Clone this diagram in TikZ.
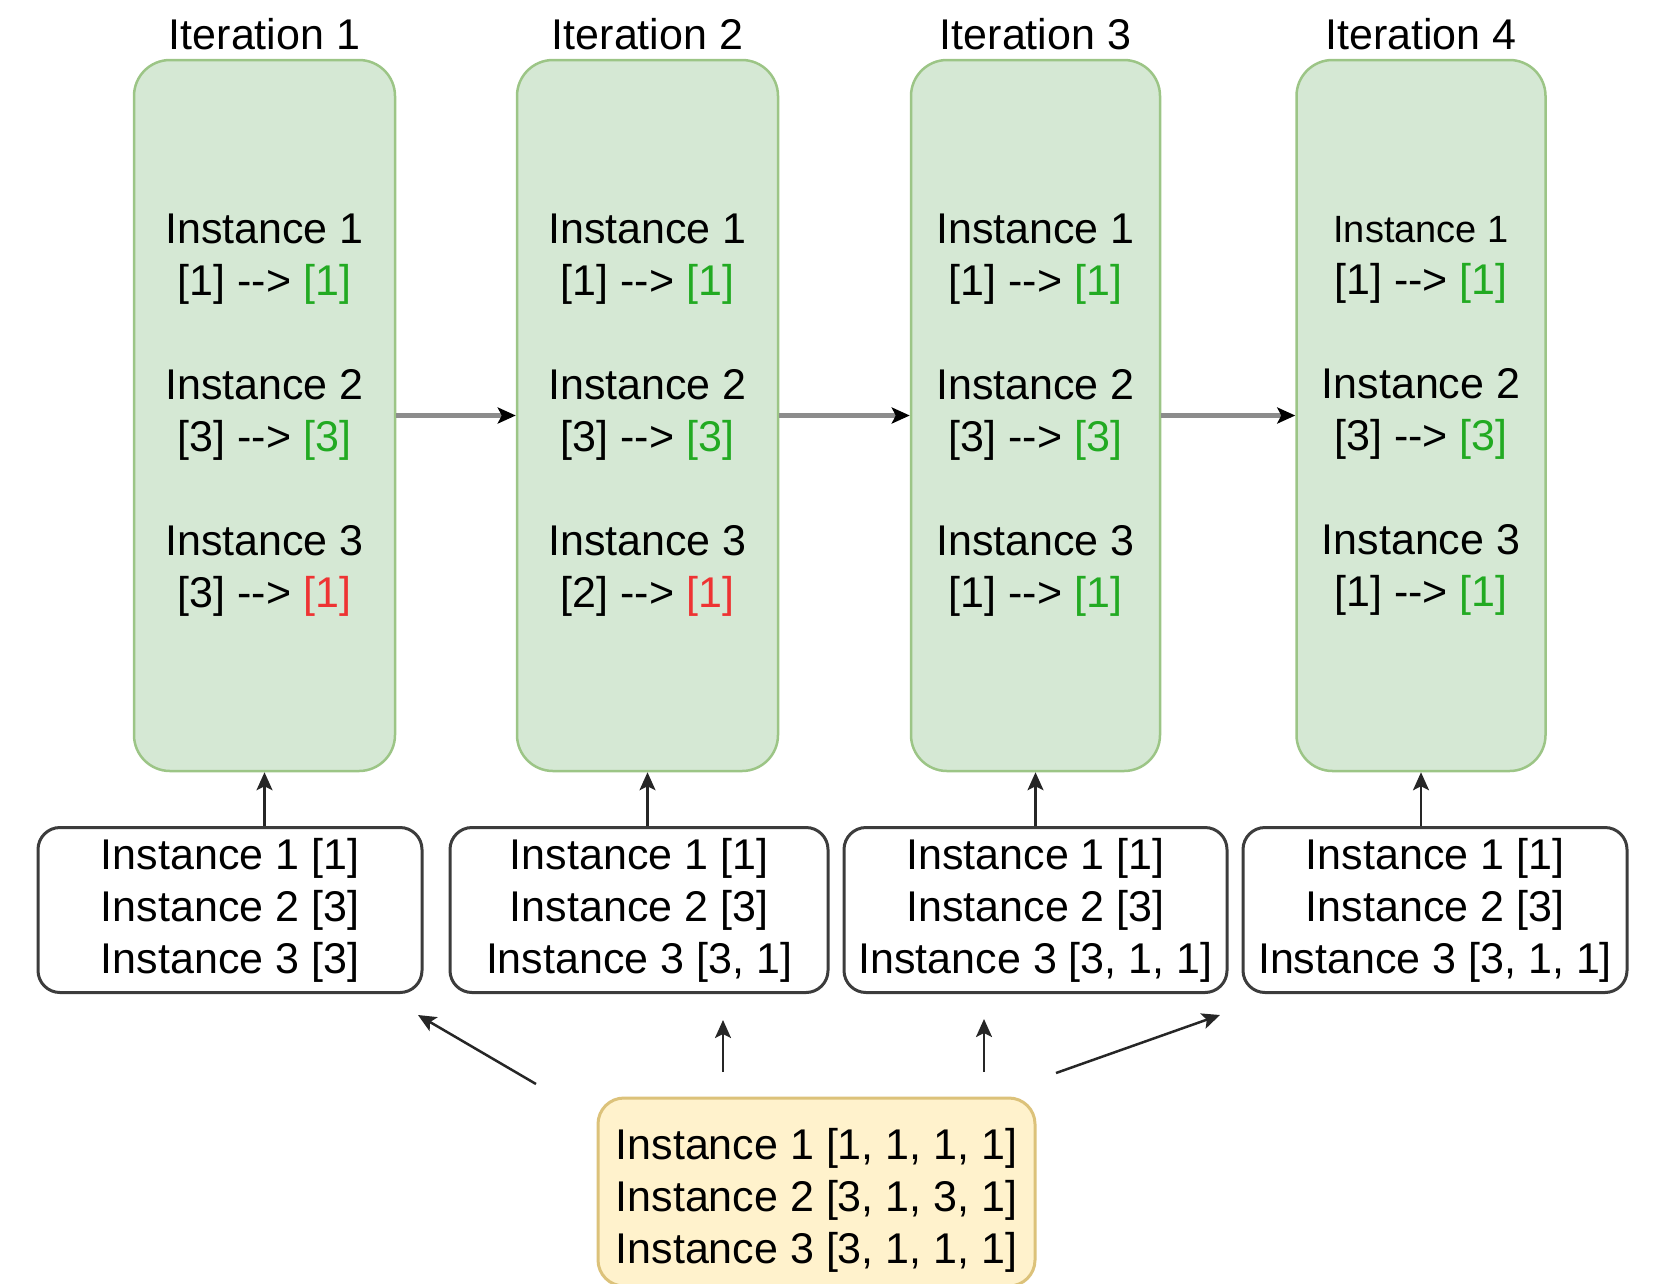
\documentclass[tikz,border=0pt]{standalone}
\usepackage{fontspec}
\setmainfont{Liberation Sans}
\usetikzlibrary{positioning,arrows.meta}
\definecolor{iterfill}{HTML}{D5E8D4}
\definecolor{iterline}{HTML}{9CC586}
\definecolor{batchline}{HTML}{3C3C3C}
\definecolor{poolfill}{HTML}{FFF2CC}
\definecolor{poolline}{HTML}{DCC27A}
\definecolor{okgreen}{HTML}{22AA22}
\definecolor{badred}{HTML}{EE3333}
\definecolor{flowgray}{HTML}{8C8C8C}
\newcommand{\pointsto}{-{}->}
\newcommand{\hit}[1]{\textcolor{okgreen}{#1}}
\newcommand{\miss}[1]{\textcolor{badred}{#1}}
\tikzset{
    iter/.style={draw=iterline, fill=iterfill, line width=2.5pt, rounded corners=36pt,
        minimum width=#1, minimum height=711pt, inner sep=0pt, align=center},
    batch/.style={draw=batchline, fill=white, line width=3pt, rounded corners=22pt,
        minimum width=#1, minimum height=165pt, inner sep=0pt, align=center},
    pool/.style={draw=poolline, fill=poolfill, line width=3pt, rounded corners=26pt,
        minimum width=437pt, minimum height=188pt, inner sep=0pt},
    title/.style={inner sep=0pt},
    link/.style={-{Stealth[length=18pt,width=16pt,inset=4pt]}, line width=2.5pt, draw=black!85},
    flow/.style={-{Stealth[length=18pt,width=16pt,inset=4pt,black]}, line width=5pt, draw=flowgray},
}

\begin{document}
\begin{tikzpicture}[x=1pt,y=-1pt,font=\fontsize{43}{52}\selectfont]
      \useasboundingbox (0,0) rectangle (1653,1283);

      % iterations
      \node[iter=261pt] (g1) at (264.5,415.5) {Instance 1\\{[1]} \pointsto{} \hit{[1]}\\[52pt]
          Instance 2\\{[3]} \pointsto{} \hit{[3]}\\[52pt]Instance 3\\{[3]} \pointsto{} \miss{[1]}};
      \node[iter=261pt] (g2) at (647.5,415.5) {Instance 1\\{[1]} \pointsto{} \hit{[1]}\\[52pt]
          Instance 2\\{[3]} \pointsto{} \hit{[3]}\\[52pt]Instance 3\\{[2]} \pointsto{} \miss{[1]}};
      \node[iter=249pt] (g3) at (1035.5,415.5) {Instance 1\\{[1]} \pointsto{} \hit{[1]}\\[52pt]
          Instance 2\\{[3]} \pointsto{} \hit{[3]}\\[52pt]Instance 3\\{[1]} \pointsto{} \hit{[1]}};
      \node[iter=249pt] (g4) at (1421,415.5) {{\fontsize{38}{46}\selectfont Instance 1}\\{[1]} \pointsto{} \hit{[1]}\\[52pt]
          Instance 2\\{[3]} \pointsto{} \hit{[3]}\\[52pt]Instance 3\\{[1]} \pointsto{} \hit{[1]}};

      \node[title] (t1) at (264.5,34) {Iteration 1};
      \node[title] (t2) at (647.5,34) {Iteration 2};
      \node[title] (t3) at (1035.5,34) {Iteration 3};
      \node[title] (t4) at (1421,34) {Iteration 4};

      \draw[flow] (g1) -- (g2);
      \draw[flow] (g2) -- (g3);
      \draw[flow] (g3) -- (g4);

      % batches
      \node[batch=384pt] (w1) at (230,910) {Instance 1 [1]\\Instance 2 [3]\\Instance 3 [3]};
      \node[batch=378pt] (w2) at (639,910) {Instance 1 [1]\\Instance 2 [3]\\Instance 3 [3, 1]};
      \node[batch=383pt] (w3) at (1035.5,910) {Instance 1 [1]\\Instance 2 [3]\\Instance 3 [3, 1, 1]};
      \node[batch=384pt] (w4) at (1435,910) {Instance 1 [1]\\Instance 2 [3]\\Instance 3 [3, 1, 1]};

      \foreach \i in {1,...,4}
      \draw[link] (g\i.south |- w\i.north) -- (g\i.south);

      % pool
      \node[pool] (p) at (816.5,1192) {};
      \node[align=center, inner sep=0pt] (ptext) at (816.5,1200) {Instance 1 [1, 1, 1, 1]\\Instance 2 [3, 1, 3, 1]\\Instance 3 [3, 1, 1, 1]};

      \coordinate (s1) at (536,1084);
      \coordinate (e1) at (418,1015);
      \coordinate (s2) at (723,1072);
      \coordinate (e2) at (723,1020);
      \coordinate (s3) at (984,1072);
      \coordinate (e3) at (984,1019);
      \coordinate (s4) at (1056,1073);
      \coordinate (e4) at (1220,1015);
      \foreach \i in {1,...,4}
      \draw[link] (s\i) -- (e\i);
\end{tikzpicture}
\end{document}
